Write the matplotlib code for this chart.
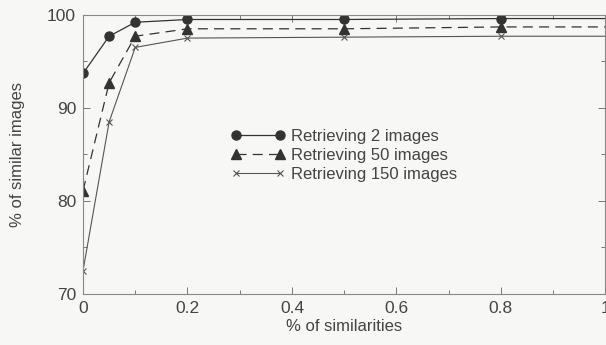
import matplotlib
matplotlib.use("Agg")
import matplotlib.pyplot as plt
from matplotlib.ticker import MultipleLocator

plt.rcParams['font.family'] = ['Liberation Sans', 'DejaVu Sans']

# similarity fraction on the x axis
sims = [0, 0.05, 0.1, 0.2, 0.5, 0.8, 1.0]
# % of similar images for each retrieval size
ret_2 = [93.7, 97.7, 99.2, 99.5, 99.5, 99.6, 99.6]
ret_50 = [81.1, 92.7, 97.7, 98.5, 98.5, 98.7, 98.7]
ret_150 = [72.5, 88.5, 96.5, 97.5, 97.6, 97.7, 97.7]
labels = ["Retrieving 2 images", "Retrieving 50 images", "Retrieving 150 images"]

bg = '#f7f7f5'
ink = '#333333'
txt = '#444444'

fig = plt.figure(figsize=(6.06, 3.45), dpi=100, facecolor=bg)
ax = fig.add_axes([0.137, 0.148, 0.862, 0.809], facecolor=bg)

# last point sits on the cut-off right edge, so no marker there
marks = list(range(len(sims) - 1))
ax.plot(sims, ret_2, color=ink, lw=0.9, marker='o', ms=6.5, markevery=marks, label=labels[0])
ax.plot(sims, ret_50, color=ink, lw=0.9, ls=(0, (8, 5)), marker='^', ms=6.5,
        markevery=marks, label=labels[1])
ax.plot(sims, ret_150, color='#555555', lw=0.8, marker='x', ms=4.5, mew=0.8,
        markevery=marks, label=labels[2])

ax.set_xlim(0, 1)
ax.set_ylim(70, 100)
ax.set_xticks([0, 0.2, 0.4, 0.6, 0.8, 1.0])
ax.set_xticklabels(["0", "0.2", "0.4", "0.6", "0.8", "1"])
ax.set_yticks([70, 80, 90, 100])
ax.xaxis.set_minor_locator(MultipleLocator(0.1))
ax.yaxis.set_minor_locator(MultipleLocator(5))
ax.tick_params(which='both', direction='in', top=True, right=True, colors='#777777',
               labelcolor=txt, labelsize=12.5, width=0.7)
ax.tick_params(which='major', length=5, pad=5)
ax.tick_params(which='minor', length=3)
for s in ax.spines.values():
    s.set_color('#888888')
    s.set_linewidth(0.8)

ax.set_xlabel("% of similarities", fontsize=12, color=txt, labelpad=2)
ax.set_ylabel("% of similar images", fontsize=12, color=txt, labelpad=16)

leg = ax.legend(loc='upper left', bbox_to_anchor=(0.255, 0.645), frameon=False, numpoints=2,
                handlelength=3.2, handletextpad=0.4, labelspacing=0.25, fontsize=12)
for t in leg.get_texts():
    t.set_color(txt)

fig.savefig("out.png", dpi=100, facecolor=bg)
